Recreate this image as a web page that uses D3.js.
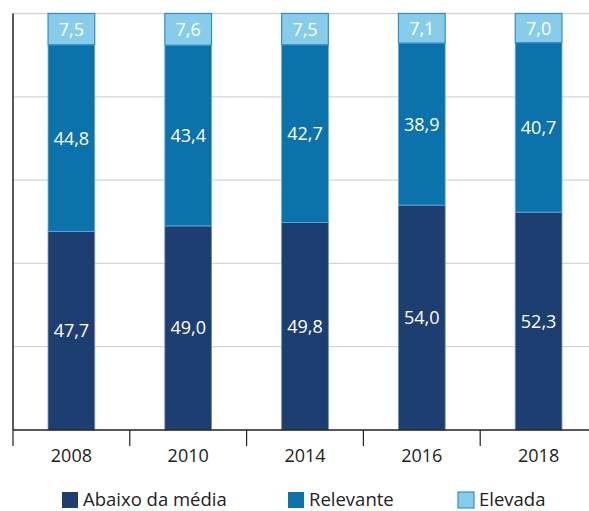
<!DOCTYPE html>
<html lang="pt">
<head>
<meta charset="UTF-8">
<title>Stacked bars</title>
<script src="https://d3js.org/d3.v7.min.js"></script>
<style>
  body { margin: 0; background: #fff; overflow: hidden; }
  text { font-family: "Open Sans", "Noto Sans", sans-serif; }
</style>
</head>
<body>
<div id="chart"></div>
<script>
  const years = ["2008", "2010", "2014", "2016", "2018"];
  const abaixo = [47.7, 49.0, 49.8, 54.0, 52.3];
  const relevante = [44.8, 43.4, 42.7, 38.9, 40.7];
  const elevada = [7.5, 7.6, 7.5, 7.1, 7.0];
  const seriesNames = ["Abaixo da média", "Relevante", "Elevada"];
  const yTicks = [0, 20, 40, 60, 80, 100];

  const width = 589, height = 511;
  const plotLeft = 13, plotTop = 13.5, plotBottom = 430, plotRight = 597;

  const svg = d3.select("#chart").append("svg")
    .attr("width", width).attr("height", height);

  const x = d3.scaleBand().domain(years).range([plotLeft, plotRight]).paddingInner(0.6).paddingOuter(0.3);
  const y = d3.scaleLinear().domain([0, 100]).range([plotBottom, plotTop]);

  const rows = years.map((yr, i) => ({ year: yr, a: abaixo[i], r: relevante[i], e: elevada[i] }));
  const stack = d3.stack().keys(["a", "r", "e"])(rows);
  const fills = ["#1d3e71", "#0b72ac", "#87cdea"];
  const strokes = ["#6f8fb8", "#5fb0de", "#2f8fc9"];

  // gridlines
  svg.append("g").selectAll("line")
    .data(yTicks.slice(1))
    .join("line")
    .attr("x1", plotLeft).attr("x2", width)
    .attr("y1", d => y(d)).attr("y2", d => y(d))
    .attr("stroke", "#d6d6d6").attr("stroke-width", 1.3);

  // bars
  stack.forEach((layer, k) => {
    const g = svg.append("g");
    g.selectAll("rect")
      .data(layer)
      .join("rect")
      .attr("x", d => x(d.data.year))
      .attr("width", x.bandwidth())
      .attr("y", d => y(d[1]))
      .attr("height", d => y(d[0]) - y(d[1]))
      .attr("fill", fills[k])
      .attr("stroke", strokes[k])
      .attr("stroke-width", k === 2 ? 1.2 : 0.8);
    g.selectAll("text")
      .data(layer)
      .join("text")
      .attr("x", d => x(d.data.year) + x.bandwidth() / 2)
      .attr("y", d => (y(d[0]) + y(d[1])) / 2)
      .attr("dy", "0.36em")
      .attr("text-anchor", "middle")
      .attr("fill", "#fff")
      .attr("font-size", 18)
      .text(d => (d[1] - d[0]).toFixed(1).replace(".", ","));
  });

  // x axis
  const xAxis = svg.append("g");
  xAxis.append("line")
    .attr("x1", plotLeft).attr("x2", width)
    .attr("y1", plotBottom).attr("y2", plotBottom)
    .attr("stroke", "#222").attr("stroke-width", 1.3);
  const step = x.step();
  const boundaries = years.map((yr, i) => plotLeft + i * step);
  xAxis.selectAll("line.tk")
    .data(boundaries)
    .join("line")
    .attr("class", "tk")
    .attr("x1", d => d).attr("x2", d => d)
    .attr("y1", plotBottom).attr("y2", plotBottom + 16)
    .attr("stroke", "#222").attr("stroke-width", 1.2);
  xAxis.selectAll("text")
    .data(years)
    .join("text")
    .attr("x", d => x(d) + x.bandwidth() / 2)
    .attr("y", 462)
    .attr("text-anchor", "middle")
    .attr("fill", "#222")
    .attr("font-size", 18)
    .text(d => d);

  // y axis line
  svg.append("line")
    .attr("x1", plotLeft).attr("x2", plotLeft)
    .attr("y1", plotTop).attr("y2", plotBottom)
    .attr("stroke", "#222").attr("stroke-width", 1.5);

  // legend
  const legendX = [62, 288, 458];
  const legend = svg.append("g").selectAll("g")
    .data(seriesNames)
    .join("g")
    .attr("transform", (d, i) => `translate(${legendX[i]},492)`);
  legend.append("rect")
    .attr("width", 16).attr("height", 16)
    .attr("fill", (d, i) => fills[i])
    .attr("stroke", (d, i) => i === 2 ? strokes[2] : "none")
    .attr("stroke-width", 1.2);
  legend.append("text")
    .attr("x", 21).attr("y", 14)
    .attr("fill", "#222")
    .attr("font-size", 18.5)
    .text(d => d);
</script>
</body>
</html>
